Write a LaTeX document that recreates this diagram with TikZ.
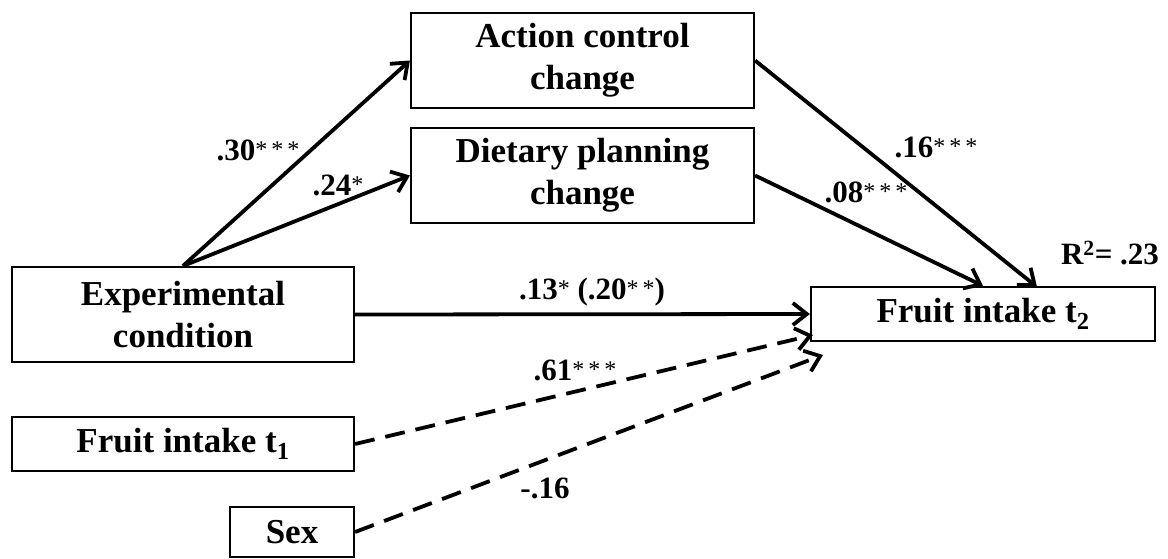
\documentclass[tikz,border=0pt]{standalone}
\usepackage{fontspec}
\setmainfont{Liberation Serif}
\usetikzlibrary{arrows.meta}
\newcommand{\sigstars}[1]{\raisebox{3pt}{\mdseries\fontsize{24}{24}\selectfont #1}}
\begin{document}
\begin{tikzpicture}[x=1pt,y=-1pt,
  box/.style={draw, line width=2.2pt, inner sep=0pt,
    font=\bfseries\fontsize{35}{42}\selectfont, align=center},
  arr/.style={line width=3.8pt, -{Straight Barb[length=14pt,width=22pt]}},
  darr/.style={arr, dash pattern=on 20pt off 11pt},
  lbl/.style={font=\bfseries\fontsize{31}{31}\selectfont, inner sep=0pt}]
\useasboundingbox (0,0) rectangle (1168,558);
\fill[white] (0,0) rectangle (1168,558);
% boxes
\node[box, minimum width=343pt, minimum height=95pt] (ac) at (582.5,60.5) {Action control\\change};
\node[box, minimum width=343pt, minimum height=95pt] (dp) at (582.5,175.5) {Dietary planning\\change};
\node[box, minimum width=342pt, minimum height=95pt] (ex) at (183,314.5) {Experimental\\condition};
\node[box, minimum width=344pt, minimum height=54pt] (ft2) at (983,314) {Fruit intake t\textsubscript{2}};
\node[box, minimum width=342pt, minimum height=54pt] (ft1) at (183,444) {Fruit intake t\textsubscript{1}};
\node[box, minimum width=124pt, minimum height=50pt] (sx) at (292,532) {Sex};
% arrow end points
\coordinate (acend) at (1037,287);
\coordinate (t1end) at (813,335);
\coordinate (sxend) at (823,355);
% connectors
\draw[arr] (ex.north) -- (ac.west);
\draw[arr] (ex.north) -- (dp.west);
\draw[arr] (ac.east) -- (acend);
\draw[arr] (dp.east) -- (ft2.north);
\draw[arr] (ex.east) -- (ft2.west);
\draw[darr] (ft1.east) -- (t1end);
\draw[darr] (sx.east) -- (sxend);
% labels
\node[lbl] (l30) at (258,150) {.30\sigstars{*\,*\,*}};
\node[lbl] (l24) at (338,185) {.24\sigstars{*}};
\node[lbl] (l16) at (936,147) {.16\sigstars{*\,*\,*}};
\node[lbl] (l08) at (866,192) {.08\sigstars{*\,*\,*}};
\node[lbl] (lr2) at (1110,253) {R\textsuperscript{2}= .23};
\node[lbl] (l13) at (592,292) {.13\sigstars{*} (.20\sigstars{*\,*})};
\node[lbl] (l61) at (575,370) {.61\sigstars{*\,*\,*}};
\node[lbl] (l16n) at (545,488) {-.16};
\end{tikzpicture}
\end{document}
